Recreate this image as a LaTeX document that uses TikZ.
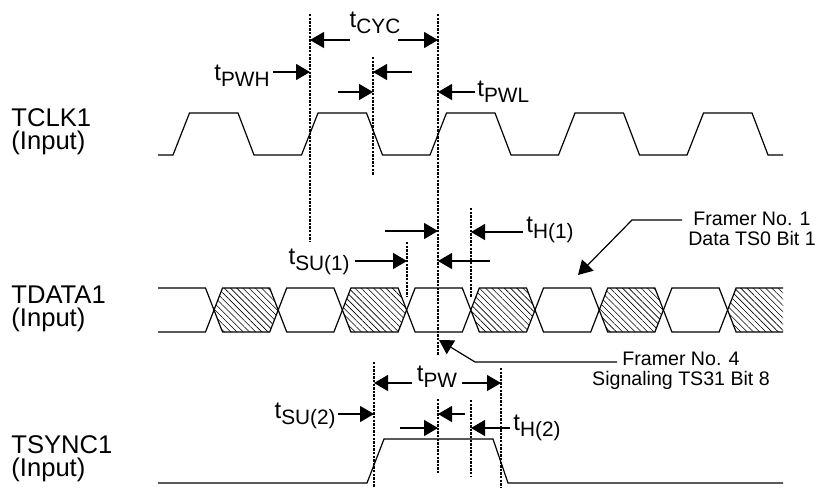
\documentclass[tikz,border=0pt]{standalone}
\usepackage{fontspec}
\setmainfont{Liberation Sans}
\usetikzlibrary{arrows.meta,patterns.meta}

\newcommand{\tsub}[1]{{\fontsize{12}{12}\selectfont t}\raisebox{-3pt}{\fontsize{10.4}{11}\selectfont #1}}

\tikzset{
  wave/.style={line width=0.6pt,line join=miter},
  guide/.style={line width=0.8pt,dash pattern=on 1.2pt off 0.6pt},
  dim/.style={line width=0.6pt,-{Triangle[length=7pt,width=8pt]}},
  leader/.style={line width=0.6pt,-{Triangle[length=7pt,width=8pt]}},
  hatch/.style={pattern={Lines[angle=-45,distance=2.2pt,line width=0.3pt]}},
  sig/.style={font=\fontsize{12.8}{14}\selectfont,inner sep=0pt,anchor=base west},
  tlabel/.style={inner sep=0pt},
  note/.style={font=\fontsize{9.8}{10}\selectfont,align=center,inner sep=0pt}
}

\begin{document}
\begin{tikzpicture}[x=0.5pt,y=-0.5pt]
  \useasboundingbox (0,0) rectangle (822,487);

  % signal names
  \node[sig] (clkname) at (11,126) {TCLK1};
  \node[sig] (clkdir)  at (11,149) {(Input)};
  \node[sig] (datname) at (11,303) {TDATA1};
  \node[sig] (datdir)  at (11,326) {(Input)};
  \node[sig] (synname) at (11,453) {TSYNC1};
  \node[sig] (syndir)  at (11,476) {(Input)};

  % TCLK1
  \draw[wave] (158,155) foreach \r in {173,301.5,430,558.5,687} {
      -- (\r,155) -- (\r+16.5,113) -- (\r+65,113) -- (\r+81,155) } -- (783,155);

  % TDATA1
  \foreach \k in {0,2,4,6}
    \fill[hatch] (214+64.2*\k,310) -- (222.5+64.2*\k,288) -- (269.7+64.2*\k,288)
      -- (278.2+64.2*\k,310) -- (269.7+64.2*\k,332) -- (222.5+64.2*\k,332) -- cycle;
  \fill[hatch] (727.6,310) -- (736.1,288) -- (783,288) -- (783,332) -- (736.1,332) -- cycle;
  \draw[wave] (158,288) -- (205.5,288) -- (214,310) -- (205.5,332) -- (158,332);
  \foreach \k in {0,...,7}
    \draw[wave] (214+64.2*\k,310) -- (222.5+64.2*\k,288) -- (269.7+64.2*\k,288)
      -- (278.2+64.2*\k,310) -- (269.7+64.2*\k,332) -- (222.5+64.2*\k,332) -- cycle;
  \draw[wave] (783,288) -- (736.1,288) -- (727.6,310) -- (736.1,332) -- (783,332);

  % TSYNC1
  \draw[wave] (158,483) -- (367,483) -- (384,439) -- (493,439) -- (508,483) -- (783,483);

  % guide lines
  \draw[guide] (310,14) -- (310,242);
  \draw[guide] (373,57) -- (373,175);
  \draw[guide] (438,14) -- (438,355);
  \draw[guide] (407,242) -- (407,297);
  \draw[guide] (471,208) -- (471,297);
  \draw[guide] (374,362) -- (374,487);
  \draw[guide] (501,368) -- (501,487);
  \draw[guide] (438,399) -- (438,473);
  \draw[guide] (471,400) -- (471,476);

  % clock timing
  \node[tlabel,anchor=base] (tcyc) at (375,27) {\tsub{CYC}};
  \draw[dim] (350,40) -- (310,40);
  \draw[dim] (398,40) -- (438,40);
  \node[tlabel,anchor=base east] (tpwh) at (270,80) {\tsub{PWH}};
  \draw[dim] (273,72) -- (310,72);
  \draw[dim] (412,72) -- (373,72);
  \draw[dim] (338,92) -- (373,92);
  \node[tlabel,anchor=base west] (tpwl) at (477,96) {\tsub{PWL}};
  \draw[dim] (475,92) -- (438,92);

  % data timing
  \draw[dim] (385,231) -- (438,231);
  \node[tlabel,anchor=base west] (th1) at (526,232) {\tsub{H(1)}};
  \draw[dim] (523,232) -- (471,232);
  \node[tlabel,anchor=base east] (tsu1) at (350,264) {\tsub{SU(1)}};
  \draw[dim] (355,261) -- (407,261);
  \draw[dim] (490,261) -- (438,261);

  % sync timing
  \node[tlabel,anchor=base] (tpw) at (437,381) {\tsub{PW}};
  \draw[dim] (412,383) -- (374,383);
  \draw[dim] (462,383) -- (501,383);
  \node[tlabel,anchor=base east] (tsu2) at (336,418) {\tsub{SU(2)}};
  \draw[dim] (338,414) -- (374,414);
  \draw[dim] (465,414) -- (438,414);
  \draw[dim] (400,428) -- (438,428);
  \node[tlabel,anchor=base west] (th2) at (513,430) {\tsub{H(2)}};
  \draw[dim] (510,428) -- (471,428);

  % framer notes
  \node[note,anchor=base] (fr1) at (752,245) {Framer No. 1\\Data TS0 Bit 1};
  \coordinate (fr1k) at (632,220);
  \coordinate (fr1tip) at (578,275);
  \draw[leader] (682,220) -- (fr1k) -- (fr1tip);
  \node[note,anchor=base] (fr4) at (681,385) {Framer No. 4\\Signaling TS31 Bit 8};
  \coordinate (fr4k) at (475,362);
  \coordinate (fr4tip) at (439,340);
  \draw[leader] (617,362) -- (fr4k) -- (fr4tip);
\end{tikzpicture}
\end{document}
